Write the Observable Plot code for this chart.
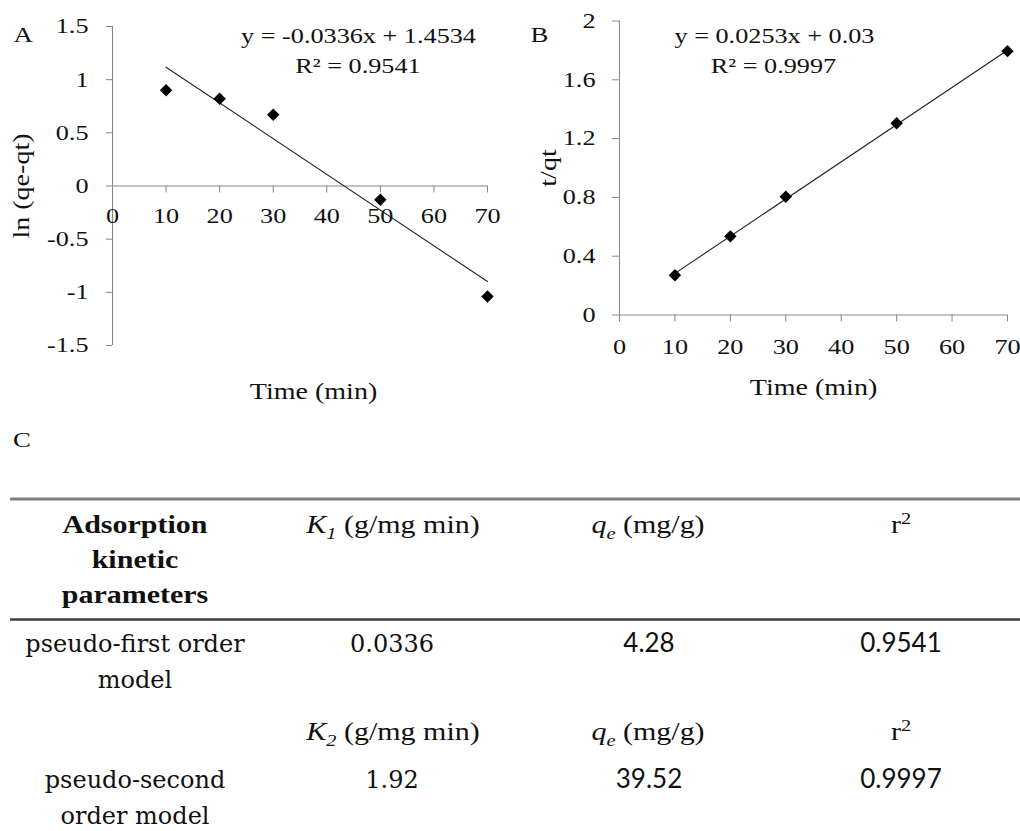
<!DOCTYPE html>
<html>
<head>
<meta charset="utf-8">
<script src="https://cdn.jsdelivr.net/npm/d3@7"></script>
<script src="https://cdn.jsdelivr.net/npm/@observablehq/plot@0.6"></script>
<style>
  html, body { margin: 0; padding: 0; background: #fff; overflow: hidden; }
  #page { position: relative; width: 1020px; height: 831px; overflow: hidden; background: #fff; }
  #page > svg { position: absolute; }
</style>
</head>
<body>
<div id="page"></div>
<script>
// ---------------- data ----------------
const timeA = [10, 20, 30, 50, 70];
const lnQeQt = [0.90, 0.82, 0.67, -0.13, -1.04];
const timeB = [10, 20, 30, 50, 70];
const tOverQt = [0.27, 0.535, 0.805, 1.305, 1.795];
const fitSlope = [-0.0336, 0.0253];
const fitIntercept = [1.4534, 0.03];
const fitR2 = [0.9541, 0.9997];
const fitRange = [10, 70];
const xTicks = [0, 10, 20, 30, 40, 50, 60, 70];
const yTicksA = [-1.5, -1, -0.5, 0, 0.5, 1, 1.5];
const yTicksB = [0, 0.4, 0.8, 1.2, 1.6, 2];
const panelLabels = ["A", "B", "C"];
const axisTitles = ["Time (min)", "ln (qe-qt)", "t/qt"];

// table (panel C)
const headerLines = ["Adsorption", "kinetic", "parameters"];
const rateSymbols = ["1", "2"];
const rateUnit = " (g/mg min)";
const qeUnit = " (mg/g)";
const modelNames = [["pseudo-first order", "model"], ["pseudo-second", "order model"]];
const rateConst = ["0.0336", "1.92"];
const qeValues = ["4.28", "39.52"];
const r2Values = ["0.9541", "0.9997"];

// ---------------- style ----------------
const SERIF = "'Liberation Serif', 'Times New Roman', Times, serif";
const CAMBRIA = "'DejaVu Serif', serif";
const SANS = "Lato, 'Liberation Sans', sans-serif";
const AXIS = "#868686";
const INK = "#111";
const LINE = "#222";
const K_CHART = 1.22;
const K_TABLE = 1.2;
const TITLE_SIZE = 23;

const page = document.getElementById("page");

// widen glyphs horizontally about each text's own anchor (keeps em offsets intact)
function stretchText(svg, k) {
  d3.select(svg).selectAll("text").each(function () {
    let tr = this.getAttribute("transform") || "";
    const x = this.getAttribute("x");
    if (x != null && /^-?[\d.]+$/.test(x) && +x !== 0) {
      tr += ` translate(${+x},0)`;
      this.removeAttribute("x");
    }
    this.setAttribute("transform", `${tr} scale(${k},1)`);
  });
}

// ---------------- panel A ----------------
{
  const W = 500, H = 410, ml = 112, mr = 13, mt = 26, mb = 65;
  const ys = Plot.scale({y: {domain: [-1.5, 1.5], range: [H - mb, mt]}});
  const zeroShift = ys.apply(0) - ys.apply(-1.5);
  const pts = timeA.map((t, i) => ({t, v: lnQeQt[i]}));
  const fit = fitRange.map(t => ({t, v: fitIntercept[0] + fitSlope[0] * t}));
  const eq = `y = ${fitSlope[0]}x + ${fitIntercept[0]}`;
  const r2 = `R² = ${fitR2[0]}`;
  const svg = Plot.plot({
    width: W, height: H, marginLeft: ml, marginRight: mr, marginTop: mt, marginBottom: mb,
    x: {domain: [0, 70]},
    y: {domain: [-1.5, 1.5]},
    style: {fontFamily: SERIF, fontSize: "21.5px", color: INK, background: "transparent", overflow: "visible"},
    marks: [
      Plot.ruleX([0], {stroke: AXIS}),
      Plot.ruleY([0], {stroke: AXIS}),
      Plot.axisY({ticks: yTicksA, tickSize: 6, tickPadding: 18, tickFormat: d => String(d), stroke: AXIS, fill: INK, label: null}),
      Plot.axisX({ticks: xTicks, anchor: "bottom", dy: zeroShift, tickSize: 7, tickPadding: 15, tickFormat: d => String(d), stroke: AXIS, fill: INK, label: null}),
      Plot.line(fit, {x: "t", y: "v", stroke: LINE, strokeWidth: 1.1}),
      Plot.dot(pts, {x: "t", y: "v", symbol: "diamond2", r: 5.6, fill: "#000", stroke: "none"}),
      Plot.text([eq], {text: d => d, frameAnchor: "top", textAnchor: "middle", lineAnchor: "bottom", dx: 58.5, dy: 16, fill: INK}),
      Plot.text([r2], {text: d => d, frameAnchor: "top", textAnchor: "middle", lineAnchor: "bottom", dx: 58, dy: 46, fill: INK}),
      Plot.text([panelLabels[0]], {text: d => d, frameAnchor: "top-left", textAnchor: "start", lineAnchor: "bottom", dx: -99, dy: 15, fontSize: 22, fill: INK}),
      Plot.text([axisTitles[1]], {text: d => d, frameAnchor: "left", textAnchor: "middle", rotate: -90, lineAnchor: "bottom", dx: -84, fontSize: TITLE_SIZE, fill: INK}),
      Plot.text([axisTitles[0]], {text: d => d, frameAnchor: "bottom", textAnchor: "middle", lineAnchor: "bottom", dx: 13.5, dy: 53, fontSize: TITLE_SIZE, fill: INK})
    ]
  });
  stretchText(svg, K_CHART);
  svg.style.left = "0px"; svg.style.top = "0px";
  page.appendChild(svg);
}

// ---------------- panel B ----------------
{
  const W = 520, H = 410, ml = 119, mr = 13, mt = 20.5, mb = 95.5;
  const pts = timeB.map((t, i) => ({t, v: tOverQt[i]}));
  const fit = fitRange.map(t => ({t, v: fitIntercept[1] + fitSlope[1] * t}));
  const eq = `y = ${fitSlope[1]}x + ${fitIntercept[1]}`;
  const r2 = `R² = ${fitR2[1]}`;
  const svg = Plot.plot({
    width: W, height: H, marginLeft: ml, marginRight: mr, marginTop: mt, marginBottom: mb,
    x: {domain: [0, 70]},
    y: {domain: [0, 2]},
    style: {fontFamily: SERIF, fontSize: "21.5px", color: INK, background: "transparent", overflow: "visible"},
    marks: [
      Plot.ruleX([0], {stroke: AXIS}),
      Plot.ruleY([0], {stroke: AXIS}),
      Plot.axisY({ticks: yTicksB, tickSize: 7, tickPadding: 17, tickFormat: d => String(d), stroke: AXIS, fill: INK, label: null}),
      Plot.axisX({ticks: xTicks, anchor: "bottom", tickSize: 7, tickPadding: 17, tickFormat: d => String(d), stroke: AXIS, fill: INK, label: null}),
      Plot.line(fit, {x: "t", y: "v", stroke: LINE, strokeWidth: 1.1}),
      Plot.dot(pts, {x: "t", y: "v", symbol: "diamond2", r: 5.6, fill: "#000", stroke: "none"}),
      Plot.text([eq], {text: d => d, frameAnchor: "top", textAnchor: "middle", lineAnchor: "bottom", dx: -39, dy: 21.5, fill: INK}),
      Plot.text([r2], {text: d => d, frameAnchor: "top", textAnchor: "middle", lineAnchor: "bottom", dx: -40, dy: 51.5, fill: INK}),
      Plot.text([panelLabels[1]], {text: d => d, frameAnchor: "top-left", textAnchor: "start", lineAnchor: "bottom", dx: -89, dy: 20.5, fontSize: 22, fill: INK}),
      Plot.text([axisTitles[2]], {text: d => d, frameAnchor: "left", textAnchor: "middle", rotate: -90, lineAnchor: "bottom", dx: -64, fontSize: TITLE_SIZE, fill: INK}),
      Plot.text([axisTitles[0]], {text: d => d, frameAnchor: "bottom", textAnchor: "middle", lineAnchor: "bottom", dx: 0, dy: 79.5, fontSize: TITLE_SIZE, fill: INK})
    ]
  });
  stretchText(svg, K_CHART);
  svg.style.left = "500px"; svg.style.top = "0px";
  page.appendChild(svg);
}

// ---------------- panel C (table) ----------------
{
  const colX = [135, 393, 648, 901];
  const svg = d3.create("svg").attr("width", 1020).attr("height", 831)
    .style("left", "0px").style("top", "0px").style("pointer-events", "none");
  page.appendChild(svg.node());

  function rich(x, y, k, opts, parts) {
    const t = svg.append("text")
      .attr("transform", `translate(${x},${y}) scale(${k},1)`)
      .attr("text-anchor", opts.anchor || "middle")
      .attr("font-family", opts.family)
      .attr("font-size", opts.size)
      .attr("font-weight", opts.weight || "normal")
      .attr("fill", INK);
    let shift = 0;
    for (const p of parts) {
      const target = p.shift || 0;
      const ts = t.append("tspan").text(p.text);
      if (target - shift !== 0) ts.attr("dy", target - shift);
      shift = target;
      if (p.italic) ts.attr("font-style", "italic");
      if (p.size) ts.attr("font-size", p.size);
    }
    return t;
  }

  // panel letter
  rich(13, 447, K_CHART, {family: SERIF, size: 22, anchor: "start"}, [{text: panelLabels[2]}]);

  // rules
  svg.append("line").attr("x1", 10).attr("x2", 1020).attr("y1", 499).attr("y2", 499)
    .attr("stroke", "#7f7f7f").attr("stroke-width", 3);
  svg.append("line").attr("x1", 10).attr("x2", 1020).attr("y1", 619.5).attr("y2", 619.5)
    .attr("stroke", "#404040").attr("stroke-width", 2.5);

  // header
  headerLines.forEach((s, i) =>
    rich(colX[0], 533 + 35 * i, K_TABLE, {family: SERIF, size: 25, weight: "bold"}, [{text: s}]));

  function paramHeader(baseline, idx) {
    rich(colX[1], baseline, K_TABLE, {family: SERIF, size: 25}, [
      {text: "K", italic: true},
      {text: rateSymbols[idx], italic: true, size: 17, shift: 6},
      {text: rateUnit, shift: 0}
    ]);
    rich(colX[2], baseline, K_TABLE, {family: SERIF, size: 25}, [
      {text: "q", italic: true},
      {text: "e", italic: true, size: 17, shift: 6},
      {text: qeUnit, shift: 0}
    ]);
    rich(colX[3], baseline, K_TABLE, {family: SERIF, size: 25}, [
      {text: "r"},
      {text: "2", size: 17, shift: -9}
    ]);
  }
  paramHeader(533, 0);
  paramHeader(740, 1);

  const rowBase = [652, 788];
  modelNames.forEach((lines, r) => {
    lines.forEach((s, j) =>
      rich(colX[0], rowBase[r] + 36 * j, 1, {family: CAMBRIA, size: 24}, [{text: s}]));
    rich(colX[1] - 1, rowBase[r], 1, {family: CAMBRIA, size: 24}, [{text: rateConst[r]}]);
    rich(colX[2] + 1, rowBase[r], 1, {family: SANS, size: 26}, [{text: qeValues[r]}]);
    rich(colX[3], rowBase[r], 1, {family: SANS, size: 26}, [{text: r2Values[r]}]);
  });
}
</script>
</body>
</html>
